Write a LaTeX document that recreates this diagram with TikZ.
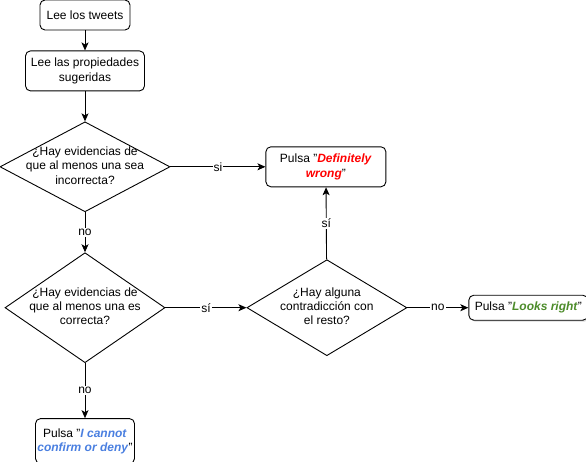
\documentclass[tikz,border=0pt]{standalone}
\usepackage{fontspec}
\setmainfont{Liberation Sans}
\usepackage{xcolor}
\usepackage{tikz}
\usetikzlibrary{
  arrows.meta,
  positioning,
  shapes.geometric,
  shadows}
\definecolor{wrongred}{HTML}{FF0000}
\definecolor{rightgreen}{HTML}{4D8C2B}
\definecolor{denyblue}{HTML}{4A7FE0}
\tikzset{every picture/.style={font issue=\fontsize{12pt}{14.4pt}},
         font issue/.style={execute at begin picture={#1\selectfont}}
        }
\newcommand{\asktext}[1]{\smash{\makebox[0pt]{\raisebox{-3pt}{\begin{tabular}{@{}c@{}}#1\end{tabular}}}}}

\begin{document}
\begin{tikzpicture}[>={Stealth[length=8pt, width=7pt, inset=2pt]},
  stepbox/.style={draw, rounded corners=5pt, align=center, inner sep=0pt, line width=0.9pt},
  question/.style={draw, diamond, inner sep=0pt, line width=0.9pt},
  flow/.style={->, line width=0.9pt},
  edgelabel/.style={fill=white, inner sep=1pt, font=\fontsize{12pt}{14pt}\selectfont}]
\useasboundingbox (0pt,0pt) rectangle (586pt,-461pt);
\node[stepbox, minimum width=90pt, minimum height=30pt] (tweets) at (85pt,-15pt) {Lee los tweets};
\node[stepbox, minimum width=119pt, minimum height=40pt, below = 20pt of tweets] (props) {Lee las propiedades\\sugeridas};
\node[question, minimum width=170pt, minimum height=90pt, below = 30pt of props] (incorrect) {\asktext{¿Hay evidencias de\\que al menos una sea\\incorrecta?}};
\node[question, minimum width=160pt, minimum height=110pt, below = 40pt of incorrect] (correct) {\asktext{¿Hay evidencias de\\que al menos una es\\correcta?}};
\node[stepbox, minimum width=99pt, minimum height=45pt, below = 55pt of correct] (cannot) {Pulsa "\textcolor{denyblue}{\textbf{\textit{I cannot}}}\\\textcolor{denyblue}{\textbf{\textit{confirm or deny}}}"};
\node[stepbox, minimum width=120pt, minimum height=40pt, right = 95pt of incorrect] (wrong) {Pulsa "\textcolor{wrongred}{\textbf{\textit{Definitely}}}\\\textcolor{wrongred}{\textbf{\textit{wrong}}}"};
\node[question, minimum width=160pt, minimum height=96pt, right = 81pt of correct] (contra) {\asktext{¿Hay alguna\\contradicción con\\el resto?}};
\node[stepbox, minimum width=119pt, minimum height=25pt, right = 61pt of contra, fill=white, drop shadow={opacity=0.3, shadow xshift=1.5pt, shadow yshift=-1.5pt}] (looks) {Pulsa "\textcolor{rightgreen}{\textbf{\textit{Looks right}}}"};

\draw[flow] (tweets) -- (props);
\draw[flow] (props) -- (incorrect);
\draw[flow] (incorrect) -- node[edgelabel, pos=0.5]{si} (wrong);
\draw[flow] (incorrect) -- node[edgelabel, pos=0.5]{no} (correct);
\draw[flow] (correct) -- node[edgelabel, pos=0.5]{no} (cannot);
\draw[flow] (correct) -- node[edgelabel, pos=0.5]{sí} (contra);
\draw[flow] (contra) -- node[edgelabel, pos=0.5]{sí} (wrong);
\draw[flow] (contra) -- node[edgelabel, pos=0.5]{no} (looks);
\end{tikzpicture}
\end{document}
